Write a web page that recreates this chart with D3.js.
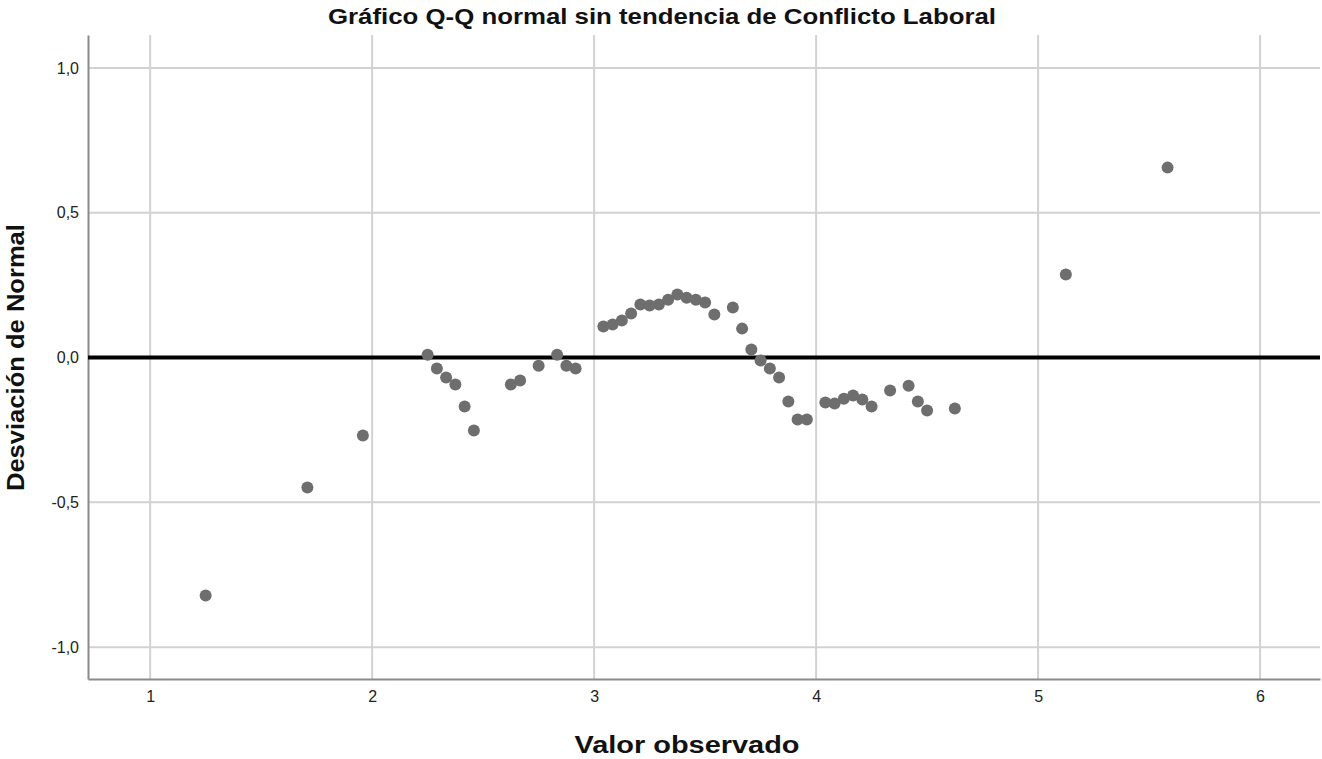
<!DOCTYPE html>
<html>
<head>
<meta charset="utf-8">
<script src="https://cdn.jsdelivr.net/npm/d3@7"></script>
<style>
  body { margin: 0; background: #fff; }
  svg { display: block; font-family: "Liberation Sans", Arial, sans-serif; }
</style>
</head>
<body>
<svg width="1322" height="759"></svg>
<script>
(function(d3) {
    'use strict';

    const title = 'Gráfico Q-Q normal sin tendencia de Conflicto Laboral';
    const xLabel = 'Valor observado';
    const yLabel = 'Desviación de Normal';

    // observed values (multiples of 1/24) and deviation from normal
    const observed = [
        1.25, 1.7083, 1.9583, 2.25, 2.2917, 2.3333, 2.375, 2.4167, 2.4583,
        2.625, 2.6667, 2.75, 2.8333, 2.875, 2.9167,
        3.0417, 3.0833, 3.125, 3.1667, 3.2083, 3.25, 3.2917, 3.3333, 3.375,
        3.4167, 3.4583, 3.5, 3.5417, 3.625, 3.6667, 3.7083, 3.75, 3.7917,
        3.8333, 3.875, 3.9167, 3.9583,
        4.0417, 4.0833, 4.125, 4.1667, 4.2083, 4.25, 4.3333, 4.4167, 4.4583,
        4.5, 4.625, 5.125, 5.5833
    ];
    const deviation = [
        -0.822, -0.449, -0.269, 0.010, -0.038, -0.069, -0.093, -0.169, -0.252,
        -0.093, -0.079, -0.028, 0.010, -0.028, -0.038,
        0.107, 0.114, 0.128, 0.152, 0.183, 0.180, 0.183, 0.200, 0.218,
        0.207, 0.200, 0.190, 0.149, 0.173, 0.100, 0.028, -0.010, -0.038,
        -0.069, -0.152, -0.214, -0.214,
        -0.155, -0.159, -0.142, -0.131, -0.145, -0.169, -0.114, -0.097, -0.152,
        -0.183, -0.176, 0.287, 0.656
    ];
    const xTicks = [1, 2, 3, 4, 5, 6];
    const yTicks = [-1, -0.5, 0, 0.5, 1];

    const points = observed.map((v, i) => ({ x: v, y: deviation[i] }));

    const margin = { top: 35, right: 2, bottom: 80, left: 88 };
    const width = 1322, height = 759;
    const svg = d3.select('svg');

    const xScale = d3.scaleLinear()
        .domain([0.72, 6.27])
        .range([margin.left, width - margin.right]);
    const yScale = d3.scaleLinear()
        .domain([-1.11, 1.114])
        .range([height - margin.bottom, margin.top]);

    const fmt = d => d3.format('.1f')(d).replace('.', ',').replace('−', '-');

    // grid
    const grid = svg.append('g');
    grid.selectAll('line.v')
        .data(xTicks)
        .enter().append('line')
        .attr('class', 'v')
        .attr('x1', xScale).attr('x2', xScale)
        .attr('y1', yScale.range()[0]).attr('y2', yScale.range()[1])
        .attr('stroke', '#d2d2d2')
        .attr('stroke-width', 2);
    grid.selectAll('line.h')
        .data(yTicks)
        .enter().append('line')
        .attr('class', 'h')
        .attr('y1', yScale).attr('y2', yScale)
        .attr('x1', xScale.range()[0]).attr('x2', xScale.range()[1])
        .attr('stroke', '#d2d2d2')
        .attr('stroke-width', 2);

    // axes
    const xAxis = svg.append('g')
        .attr('transform', `translate(0,${yScale.range()[0]})`)
        .call(d3.axisBottom(xScale).tickValues(xTicks).tickSize(0).tickPadding(12).tickFormat(d3.format('d')));
    const yAxis = svg.append('g')
        .attr('transform', `translate(${xScale.range()[0]},0)`)
        .call(d3.axisLeft(yScale).tickValues(yTicks).tickSize(0).tickPadding(9).tickFormat(fmt));
    [xAxis, yAxis].forEach(a => {
        a.select('.domain').attr('stroke', '#8a8a8a').attr('stroke-width', 2);
        a.selectAll('text')
            .attr('font-family', '"Liberation Sans", Arial, sans-serif')
            .attr('font-size', 16)
            .attr('fill', '#222');
    });

    // reference line at zero
    svg.append('line')
        .attr('x1', xScale.range()[0]).attr('x2', xScale.range()[1])
        .attr('y1', yScale(0)).attr('y2', yScale(0))
        .attr('stroke', '#000')
        .attr('stroke-width', 4);

    // points
    svg.append('g')
        .selectAll('circle')
        .data(points)
        .enter().append('circle')
        .attr('cx', d => xScale(d.x))
        .attr('cy', d => yScale(d.y))
        .attr('r', 6)
        .attr('fill', '#6e6e6e');

    // labels
    svg.append('text')
        .attr('x', 662).attr('y', 24)
        .attr('text-anchor', 'middle')
        .attr('font-size', 22)
        .attr('font-weight', 'bold')
        .attr('fill', '#111')
        .attr('textLength', 668)
        .attr('lengthAdjust', 'spacingAndGlyphs')
        .text(title);
    svg.append('text')
        .attr('x', 687).attr('y', 753)
        .attr('text-anchor', 'middle')
        .attr('font-size', 23)
        .attr('font-weight', 'bold')
        .attr('fill', '#111')
        .attr('textLength', 225)
        .attr('lengthAdjust', 'spacingAndGlyphs')
        .text(xLabel);
    svg.append('text')
        .attr('transform', `translate(24,${yScale(0)}) rotate(-90)`)
        .attr('text-anchor', 'middle')
        .attr('font-size', 23)
        .attr('font-weight', 'bold')
        .attr('fill', '#111')
        .attr('textLength', 267)
        .attr('lengthAdjust', 'spacingAndGlyphs')
        .text(yLabel);
}(d3));
</script>
</body>
</html>
